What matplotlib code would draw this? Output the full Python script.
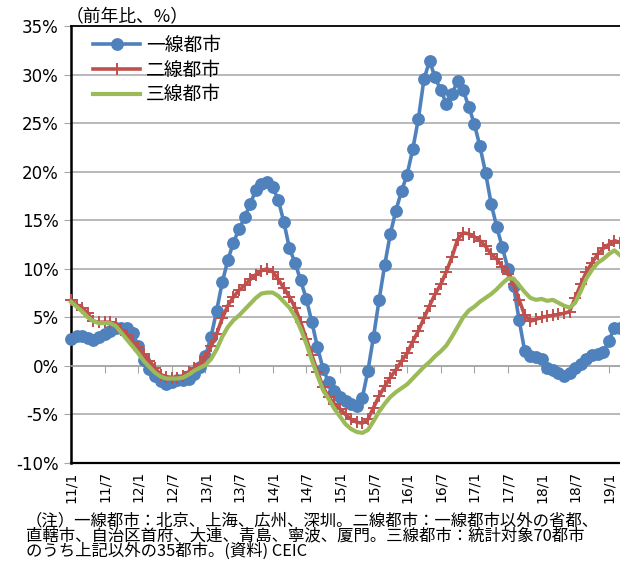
import matplotlib
matplotlib.use("Agg")
import matplotlib.pyplot as plt
import numpy as np

plt.rcParams['font.family'] = ['Noto Sans CJK JP', 'DejaVu Sans']

# 2011/1 - 2019/3, monthly, 前年比 %
tier1 = [2.8, 3.1, 3.1, 2.9, 2.7, 3.0, 3.3, 3.6, 3.9, 3.95, 3.9, 3.4,
         2.0, 0.6, -0.3, -1.0, -1.6, -1.9, -1.7, -1.5, -1.5, -1.3, -0.8, -0.1,
         1.0, 3.0, 5.7, 8.6, 10.9, 12.7, 14.1, 15.3, 16.7, 18.1, 18.7, 18.9,
         18.4, 17.1, 14.8, 12.1, 10.6, 8.8, 6.9, 4.5, 1.9, -0.3, -1.7, -2.6,
         -3.2, -3.6, -3.9, -4.1, -3.3, -0.5, 3.0, 6.8, 10.4, 13.6, 16.0, 18.0,
         19.7, 22.3, 25.4, 29.5, 31.4, 29.7, 28.4, 27.0, 28.0, 29.3, 28.4, 26.7,
         24.9, 22.6, 19.9, 16.7, 14.3, 12.2, 10.0, 8.2, 4.7, 1.5, 1.0, 0.9,
         0.7, -0.2, -0.4, -0.7, -1.0, -0.7, -0.2, 0.2, 0.7, 1.1, 1.2, 1.4,
         2.6, 3.9, 3.95]
tier2 = [6.8, 6.3, 6.0, 5.4, 4.6, 4.5, 4.5, 4.5, 4.3, 3.7, 3.2, 2.5,
         1.9, 1.2, 0.5, -0.2, -0.9, -1.1, -1.2, -1.2, -1.0, -0.6, -0.2, 0.2,
         0.9, 2.0, 3.3, 4.9, 6.2, 7.1, 7.8, 8.3, 8.9, 9.4, 9.8, 10.0,
         9.7, 8.9, 8.0, 7.1, 6.0, 4.5, 2.8, 1.1, -0.6, -2.2, -3.2, -3.9,
         -4.4, -5.0, -5.5, -5.8, -5.9, -5.5, -4.3, -3.1, -2.1, -1.2, -0.4, 0.5,
         1.3, 2.5, 3.6, 4.9, 6.2, 7.4, 8.4, 9.7, 11.2, 13.0, 13.7, 13.6,
         13.3, 12.9, 12.3, 11.5, 11.0, 10.2, 9.5, 8.4, 6.8, 5.2, 4.6, 4.8,
         5.0, 5.1, 5.2, 5.3, 5.4, 5.6, 7.0, 8.4, 9.7, 10.6, 11.5, 12.1,
         12.5, 12.9, 12.7]
tier3 = [6.6, 6.1, 5.6, 5.0, 4.6, 4.4, 4.4, 4.4, 4.1, 3.4, 2.7, 2.0,
         1.3, 0.5, -0.1, -0.7, -1.1, -1.3, -1.3, -1.3, -1.2, -0.9, -0.5, -0.2,
         0.1, 0.7, 1.7, 3.0, 4.0, 4.7, 5.2, 5.8, 6.4, 7.0, 7.45, 7.55,
         7.55, 7.2, 6.6, 6.0, 5.1, 3.8, 2.3, 0.6, -1.0, -2.5, -3.4, -4.4,
         -5.2, -6.0, -6.5, -6.8, -6.9, -6.6, -5.7, -4.7, -3.9, -3.2, -2.7, -2.3,
         -1.9, -1.3, -0.7, -0.1, 0.4, 1.0, 1.5, 2.1, 3.0, 4.0, 5.0, 5.7,
         6.1, 6.6, 7.0, 7.4, 7.9, 8.5, 9.0, 9.0, 8.3, 7.6, 7.0, 6.8,
         6.9, 6.7, 6.8, 6.5, 6.2, 6.0, 6.5, 7.7, 9.0, 9.9, 10.6, 11.0,
         11.5, 11.9, 11.4]
series_names = ['一線都市', '二線都市', '三線都市']
tick_labels = ['11/1', '11/7', '12/1', '12/7', '13/1', '13/7', '14/1', '14/7',
               '15/1', '15/7', '16/1', '16/7', '17/1', '17/7', '18/1', '18/7',
               '19/1']
yticks = [-10, -5, 0, 5, 10, 15, 20, 25, 30, 35]

months = np.arange(len(tier1))
tick_pos = months[::6][:len(tick_labels)]

fig = plt.figure(figsize=(6.2, 5.61), dpi=100)
ax = fig.add_axes([71 / 620, 1 - 463 / 561, 549 / 620, 437 / 561])

grid_c = '#a6a6a6'
for v in yticks[1:-1]:
    ax.axhline(v, color=grid_c, lw=1.1, zorder=1)

ax.plot(months, tier1, color='#4f81bd', lw=2.6, marker='o', ms=8.2,
        label=series_names[0], zorder=3, clip_on=False)
ax.plot(months, tier2, color='#c0504d', lw=2.6, marker='+', ms=9, mew=1.4,
        label=series_names[1], zorder=4, clip_on=False)
ax.plot(months, tier3, color='#9bbb59', lw=3, label=series_names[2], zorder=5,
        clip_on=False)

ax.set_xlim(0, len(tier1) - 1)
ax.set_ylim(-10, 35)
ax.set_yticks(yticks)
ax.set_yticklabels([f'{v}%' for v in yticks], fontsize=12, family='DejaVu Sans')
ax.tick_params(axis='y', direction='out', length=5, color=grid_c, pad=4)

# horizontal axis crosses at 0, labels at the bottom
ax.spines['bottom'].set_position(('data', 0))
ax.spines['bottom'].set_color(grid_c)
ax.spines['bottom'].set_linewidth(1.1)
ax.set_xticks(tick_pos)
ax.tick_params(axis='x', direction='out', length=5, color=grid_c, labelbottom=False)

sec = ax.secondary_xaxis(0)
sec.set_xticks(tick_pos)
sec.set_xticklabels(tick_labels, rotation=90, fontsize=10, family='DejaVu Sans')
sec.tick_params(length=0, pad=6)
sec.spines['bottom'].set_linewidth(1.6)

ax.spines['right'].set_visible(False)
ax.spines['left'].set_linewidth(1.8)
ax.spines['top'].set_linewidth(1.3)

ax.legend(loc='upper left', bbox_to_anchor=(0.017, 1.01), frameon=False,
          fontsize=13.5, handlelength=2.5, handletextpad=0.3,
          labelspacing=0.2, borderaxespad=0.3, markerscale=1.0)

fig.text(66 / 620, 1 - 25 / 561, '（前年比、%）', fontsize=12.8, va='bottom', ha='left')

notes = ['（注）一線都市：北京、上海、広州、深圳。二線都市：一線都市以外の省都、',
         '直轄市、自治区首府、大連、青島、寧波、厦門。三線都市：統計対象70都市',
         'のうち上記以外の35都市。(資料) CEIC']
fig.text(26 / 620, 1 / 561, '\n'.join(notes), fontsize=11.8, linespacing=0.85,
         va='bottom', ha='left')

fig.savefig('out.png', dpi=100)
